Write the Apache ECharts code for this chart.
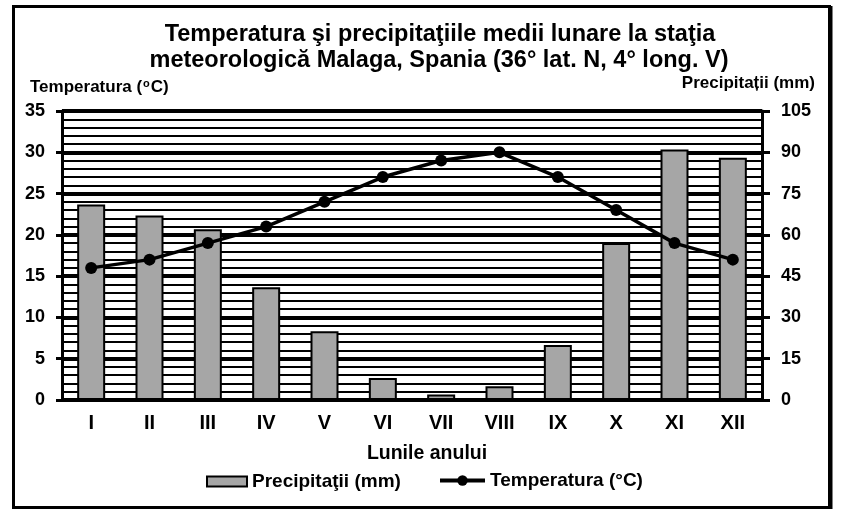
<!DOCTYPE html>
<html>
<head>
<meta charset="utf-8">
<script src="https://cdn.jsdelivr.net/npm/echarts@6/dist/echarts.min.js"></script>
<style>
html,body{margin:0;padding:0;background:#fff;}
#chart{width:844px;height:520px;}
</style>
</head>
<body>
<div id="chart"></div>
<script>
const months = ['I','II','III','IV','V','VI','VII','VIII','IX','X','XI','XII'];
const temperature = [16,17,19,21,24,27,29,30,27,23,19,17];
const precipitation = [71,67,62,41,25,8,2,5,20,57,91,88];
const tempTicks = {min:0, max:35, interval:5};
const precTicks = {min:0, max:105, interval:15};

const FONT = '"Liberation Sans", Arial, sans-serif';
const legendText = {color: '#000', fontSize: 19, fontWeight: 'bold', fontFamily: FONT};
const chart = echarts.init(document.getElementById('chart'));
chart.setOption({
  animation: false,
  backgroundColor: '#fff',
  textStyle: {fontFamily: FONT, color: '#000', fontWeight: 'bold'},
  grid: {left: 62, right: 82, top: 111, bottom: 120, containLabel: false},
  xAxis: {
    type: 'category',
    data: months,
    axisLine: {show: true, lineStyle: {color: '#000', width: 3}},
    axisTick: {show: false},
    axisLabel: {color: '#000', fontSize: 20, fontWeight: 'bold', fontFamily: FONT, margin: 13}
  },
  yAxis: [
    {
      type: 'value', min: tempTicks.min, max: tempTicks.max, interval: tempTicks.interval,
      position: 'left',
      axisLine: {show: true, lineStyle: {color: '#000', width: 3}},
      axisTick: {show: true, length: 6, lineStyle: {color: '#000', width: 3}},
      axisLabel: {color: '#000', fontSize: 18, fontWeight: 'bold', fontFamily: FONT, margin: 17},
      splitLine: {show: true, lineStyle: {color: '#000', width: 4}},
      minorTick: {show: false, splitNumber: 5},
      minorSplitLine: {show: true, lineStyle: {color: '#000', width: 2}}
    },
    {
      type: 'value', min: precTicks.min, max: precTicks.max, interval: precTicks.interval,
      position: 'right',
      axisLine: {show: true, lineStyle: {color: '#000', width: 3}},
      axisTick: {show: true, length: 8, lineStyle: {color: '#000', width: 3}},
      axisLabel: {color: '#000', fontSize: 18, fontWeight: 'bold', fontFamily: FONT, margin: 19},
      splitLine: {show: false}
    }
  ],
  legend: [
    {
      left: 206, top: 472, padding: 0,
      itemWidth: 40, itemHeight: 10,
      textStyle: legendText,
      data: [{name: 'Precipitaţii (mm)', icon: 'rect'}]
    },
    {
      left: 438, top: 471, padding: 0,
      itemWidth: 45, itemHeight: 13,
      textStyle: legendText,
      data: [{name: 'Temperatura (°C)', lineStyle: {width: 4, color: '#000'}, itemStyle: {color: '#000'}}]
    }
  ],
  series: [
    {
      name: 'Precipitaţii (mm)', type: 'bar', yAxisIndex: 1,
      data: precipitation, barWidth: 28,
      itemStyle: {color: '#a6a6a6', borderColor: '#000', borderWidth: 2}
    },
    {
      name: 'Temperatura (°C)', type: 'line', yAxisIndex: 0,
      data: temperature, symbol: 'circle', symbolSize: 12,
      lineStyle: {color: '#000', width: 3.5},
      itemStyle: {color: '#000'}, z: 5
    }
  ],
  graphic: [
    {type: 'rect', shape: {x: 13.5, y: 6.5, width: 816, height: 501}, style: {fill: 'none', stroke: '#000', lineWidth: 3}, silent: true},
    {type: 'line', shape: {x1: 831, y1: 6, x2: 831, y2: 509}, style: {stroke: '#000', lineWidth: 3}, silent: true},
    {type: 'text', style: {text: 'Temperatura şi precipitaţiile medii lunare la staţia', x: 440, y: 35, textAlign: 'center', textVerticalAlign: 'middle', font: 'bold 23.5px ' + FONT, fill: '#000'}},
    {type: 'text', style: {text: 'meteorologică Malaga, Spania (36° lat. N, 4° long. V)', x: 439, y: 61, textAlign: 'center', textVerticalAlign: 'middle', font: 'bold 23.5px ' + FONT, fill: '#000'}},
    {type: 'text', style: {
      text: '{a|Temperatura (}{s|o}{a|C)}', x: 30, y: 87, textVerticalAlign: 'middle', fill: '#000',
      rich: {
        a: {fontSize: 17, fontWeight: 'bold', fontFamily: FONT, color: '#000'},
        s: {fontSize: 11, fontWeight: 'bold', fontFamily: FONT, color: '#000', verticalAlign: 'top', padding: [0, 1, 6, 1]}
      }
    }},
    {type: 'text', style: {text: 'Precipitații (mm)', x: 815, y: 83, textAlign: 'right', textVerticalAlign: 'middle', font: 'bold 17px ' + FONT, fill: '#000'}},
    {type: 'text', style: {text: 'Lunile anului', x: 427, y: 454, textAlign: 'center', textVerticalAlign: 'middle', font: 'bold 19.5px ' + FONT, fill: '#000'}}
  ]
});
</script>
</body>
</html>
